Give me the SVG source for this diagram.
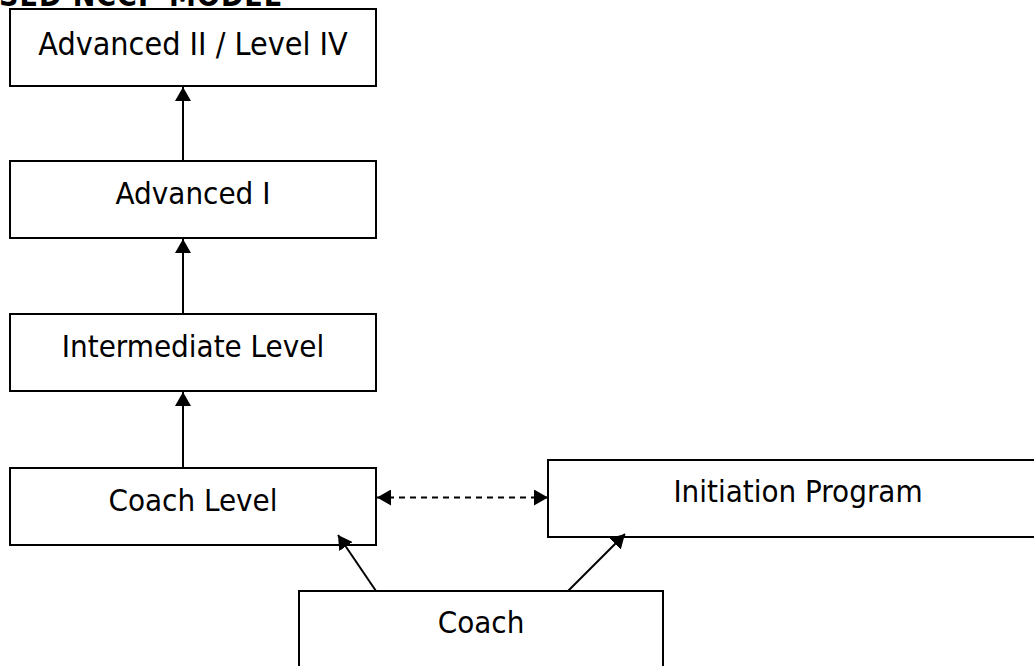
<svg xmlns="http://www.w3.org/2000/svg" width="1034" height="666" viewBox="0 0 1034 666">
<style>
.box{fill:#fff;stroke:#000;stroke-width:2}
.lbl{font-family:"DejaVu Sans Condensed","DejaVu Sans","Liberation Sans",sans-serif;font-stretch:condensed;font-size:31px;fill:#000;text-anchor:middle}
.title{font-family:"DejaVu Sans Condensed","DejaVu Sans","Liberation Sans",sans-serif;font-stretch:condensed;font-size:30px;font-weight:bold;fill:#000}
.con{fill:none;stroke:#000;stroke-width:2}
.dash{stroke-dasharray:6,5}
</style>
<defs>
<marker id="ah" viewBox="0 0 14 16" markerUnits="userSpaceOnUse" markerWidth="14" markerHeight="16" refX="14" refY="8" orient="auto-start-reverse">
<path d="M0,0 L14,8 L0,16 z" fill="#000"/>
</marker>
</defs>
<rect width="1034" height="666" fill="#fff"/>
<text class="title" x="-1" y="6" textLength="282" lengthAdjust="spacing">SED NCCP MODEL</text>
<g id="n1"><rect class="box" x="10" y="9" width="366" height="77"/><text class="lbl" x="193" y="55" style="font-size:32px">Advanced II / Level IV</text></g>
<g id="n2"><rect class="box" x="10" y="161" width="366" height="77"/><text class="lbl" x="193" y="204">Advanced I</text></g>
<g id="n3"><rect class="box" x="10" y="314" width="366" height="77"/><text class="lbl" x="193" y="357">Intermediate Level</text></g>
<g id="n4"><rect class="box" x="10" y="468" width="366" height="77"/><text class="lbl" x="193" y="511">Coach Level</text></g>
<g id="n5"><rect class="box" x="548" y="460" width="500" height="77"/><text class="lbl" x="798" y="502">Initiation Program</text></g>
<g id="n6"><rect class="box" x="299" y="591" width="364" height="100"/><text class="lbl" x="481" y="633">Coach</text></g>
<g id="connectors">
<line class="con" x1="183" y1="161" x2="183" y2="87" marker-end="url(#ah)"/>
<line class="con" x1="183" y1="314" x2="183" y2="239" marker-end="url(#ah)"/>
<line class="con" x1="183" y1="468" x2="183" y2="392" marker-end="url(#ah)"/>
<line class="con dash" x1="377" y1="497.5" x2="548" y2="497.5" marker-start="url(#ah)" marker-end="url(#ah)"/>
<line class="con" x1="376" y1="591" x2="338" y2="535" marker-end="url(#ah)"/>
<line class="con" x1="568" y1="591" x2="625" y2="534" marker-end="url(#ah)"/>
</g>
</svg>
